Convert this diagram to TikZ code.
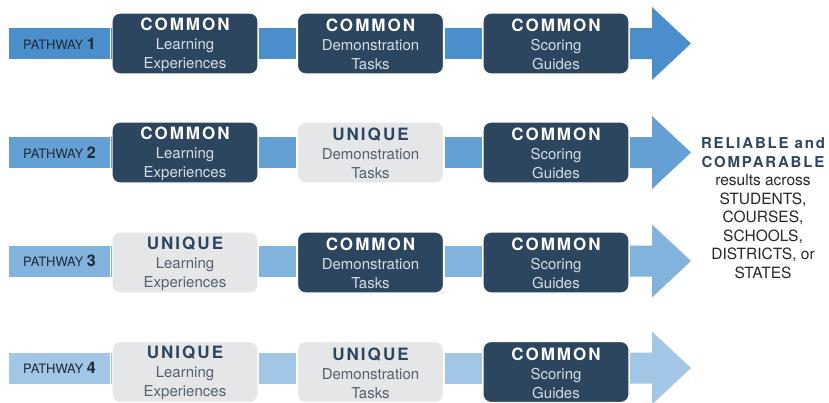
\documentclass[tikz,border=0pt]{standalone}
\usepackage{fontspec}
\setmainfont{TeX Gyre Heros}
\newfontfamily\titlefont[LetterSpace=12]{TeX Gyre Heros}
\usetikzlibrary{calc}
\definecolor{dark}{HTML}{2C4660}
\definecolor{light}{HTML}{E5E6E8}
\definecolor{sublight}{HTML}{D6DDE4}
\definecolor{subdark}{HTML}{56606B}
\definecolor{labeltext}{HTML}{1E2A36}
\definecolor{bandA}{HTML}{4A8FCB}
\definecolor{bandB}{HTML}{64A0D4}
\definecolor{bandC}{HTML}{82B3DD}
\definecolor{bandD}{HTML}{A2C6E6}
\newcommand\ttlC{{\rule{0pt}{15pt}\titlefont\bfseries\fontsize{17}{19}\selectfont\color{white}COMMON}}
\newcommand\ttlU{{\rule{0pt}{15pt}\titlefont\bfseries\fontsize{17}{19}\selectfont\color{dark}UNIQUE}}
\newcommand\pw[1]{{\fontsize{13}{14}\selectfont PATHWAY }{\bfseries\fontsize{16}{16}\selectfont #1}}
\begin{document}
\begin{tikzpicture}[x=1pt,y=-1pt,
  box/.style={rounded corners=8pt, minimum width=146pt, minimum height=61pt, inner sep=0pt,
    draw=white, line width=1.2pt, align=center, font=\fontsize{15}{19}\selectfont},
  darkbox/.style={box, fill=dark, text=sublight},
  lightbox/.style={box, fill=light, text=subdark},
  pathlabel/.style={minimum width=101pt, minimum height=31pt, inner sep=0pt, text=labeltext},
  conn/.style={line width=31pt}]
\useasboundingbox (0,0) rectangle (829,402);

% Row 1
\node[pathlabel, fill=bandA] (p1) at (59.5,43.5) {\pw{1}};
\node[darkbox] (b11) at (185,43.5) {\ttlC\\Learning\\Experiences};
\node[darkbox] (b12) at (370.5,43.5) {\ttlC\\Demonstration\\Tasks};
\node[darkbox] (b13) at (556,43.5) {\ttlC\\Scoring\\Guides};
\coordinate (t1) at (691,43.5);
% Row 2
\node[pathlabel, fill=bandB] (p2) at (59.5,152.5) {\pw{2}};
\node[darkbox] (b21) at (185,152.5) {\ttlC\\Learning\\Experiences};
\node[lightbox] (b22) at (370.5,152.5) {\ttlU\\Demonstration\\Tasks};
\node[darkbox] (b23) at (556,152.5) {\ttlC\\Scoring\\Guides};
\coordinate (t2) at (691,152.5);
% Row 3
\node[pathlabel, fill=bandC] (p3) at (59.5,261) {\pw{3}};
\node[lightbox] (b31) at (185,262.5) {\ttlU\\Learning\\Experiences};
\node[darkbox] (b32) at (370.5,262.5) {\ttlC\\Demonstration\\Tasks};
\node[darkbox] (b33) at (556,262.5) {\ttlC\\Scoring\\Guides};
\coordinate (t3) at (691,261);
% Row 4
\node[pathlabel, fill=bandD] (p4) at (59.5,368) {\pw{4}};
\node[lightbox] (b41) at (185,372) {\ttlU\\Learning\\Experiences};
\node[lightbox] (b42) at (370.5,372) {\ttlU\\Demonstration\\Tasks};
\node[darkbox] (b43) at (556,372) {\ttlC\\Scoring\\Guides};
\coordinate (t4) at (691,368);

% connectors
\foreach \r/\c in {1/bandA,2/bandB,3/bandC,4/bandD}{
  \draw[conn, \c, shorten <=1.5pt] (p\r.east) -- (p\r.east -| b\r1.west);
  \draw[conn, \c, shorten <=0.6pt, shorten >=0.6pt] (p\r.east -| b\r1.east) -- (p\r.east -| b\r2.west);
  \draw[conn, \c, shorten <=0.6pt, shorten >=0.6pt] (p\r.east -| b\r2.east) -- (p\r.east -| b\r3.west);
  \fill[\c] ($(p\r.east -| b\r3.east)+(0.6,-15.5)$) -- ($(t\r)+(-39,-15.5)$) -- ($(t\r)+(-39,-36.5)$) -- (t\r)
    -- ($(t\r)+(-39,36.5)$) -- ($(t\r)+(-39,15.5)$) -- ($(p\r.east -| b\r3.east)+(0.6,15.5)$) -- cycle;
}

% result text
\node[align=center, text=black!85, font=\fontsize{15.5}{18.5}\selectfont] (res) at (763,208)
  {{\titlefont\bfseries\fontsize{15}{18.5}\selectfont\color{dark}RELIABLE and}\\
   {\titlefont\bfseries\fontsize{15}{18.5}\selectfont\color{dark}COMPARABLE}\\
   results across\\STUDENTS,\\COURSES,\\SCHOOLS,\\DISTRICTS, or\\STATES};
\end{tikzpicture}
\end{document}
